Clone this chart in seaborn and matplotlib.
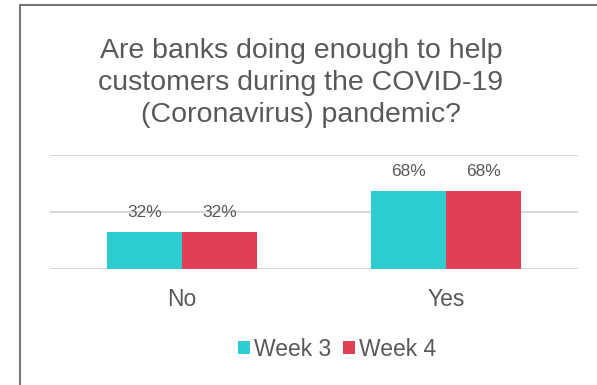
import matplotlib
matplotlib.use("Agg")
import matplotlib.pyplot as plt
import seaborn as sns
import pandas as pd
from matplotlib.patches import Rectangle

# ---- data ----
categories = ["No", "Yes"]
series_names = ["Week 3", "Week 4"]
week3_values = [0.32, 0.68]
week4_values = [0.32, 0.68]
colors = ["#2ECCD3", "#E03F56"]
title_text = "Are banks doing enough to help\ncustomers during the COVID-19\n(Coronavirus) pandemic?"

df = pd.DataFrame({
    "answer": categories * 2,
    "week": [series_names[0]] * len(categories) + [series_names[1]] * len(categories),
    "value": week3_values + week4_values,
})

sns.set_theme(style="white")
plt.rcParams["font.family"] = ["Liberation Sans", "DejaVu Sans"]
text_color = "#595959"

fig = plt.figure(figsize=(5.97, 3.85), dpi=100)
W, H = 597, 385
ax = fig.add_axes([50 / W, 1 - 268.5 / H, 528 / W, 113.5 / H])

sns.barplot(data=df, x="answer", y="value", hue="week", palette=colors,
            width=0.57, gap=0, saturation=1, ax=ax, linewidth=0, edgecolor="none")

ax.set_ylim(0, 1)
ax.set_xlim(-0.5, 1.5)
ax.set_yticks([0, 0.5, 1.0])
ax.yaxis.grid(True, color="#D9D9D9", linewidth=1.5)
ax.set_axisbelow(True)
ax.tick_params(axis="y", left=False, labelleft=False)
ax.tick_params(axis="x", bottom=False, labelsize=16.5, colors=text_color, pad=8)
for s in ax.spines.values():
    s.set_visible(False)
ax.set_xlabel("")
ax.set_ylabel("")

for cont in ax.containers:
    ax.bar_label(cont, labels=[f"{v*100:.0f}%" for v in cont.datavalues],
                 padding=9, fontsize=12.5, color=text_color)

leg = ax.legend(loc="center", bbox_to_anchor=(337 / W, 1 - 349 / H),
                bbox_transform=fig.transFigure, ncol=2, frameon=False,
                fontsize=16.5, handlelength=0.52, handleheight=0.52,
                handletextpad=0.2, columnspacing=0.5, borderpad=0, borderaxespad=0)
for t in leg.get_texts():
    t.set_color(text_color)

fig.text(301 / W, 1 - 83 / H, title_text, ha="center", va="center",
         fontsize=20.5, color=text_color, linespacing=1.32)

# outer frame
fig.patches.append(Rectangle((19.5 / W, -0.05), 1.2, 1 - 4.5 / H + 0.05,
                             transform=fig.transFigure, fill=False,
                             edgecolor="#767676", linewidth=1.5))

fig.savefig("out.png", dpi=100)
